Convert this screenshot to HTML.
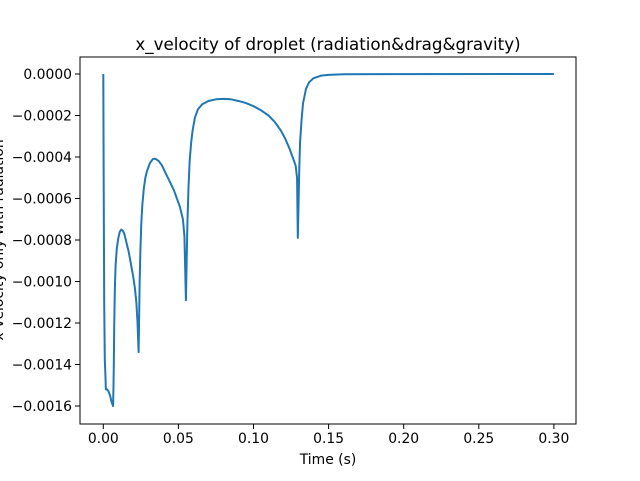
<!DOCTYPE html>
<html><head><meta charset="utf-8"><style>
html,body{margin:0;padding:0;background:#fff;}
svg text{font-family:"DejaVu Sans","Liberation Sans",sans-serif;fill:#000;}
</style></head><body>
<svg id="chart" width="640" height="476" viewBox="0 0 640 476" xmlns="http://www.w3.org/2000/svg">
<rect width="640" height="476" fill="#fff"/>
<text x="328" y="50" font-size="16.7" text-anchor="middle">x_velocity of droplet (radiation&amp;drag&amp;gravity)</text>
<text x="328" y="464" font-size="13.9" text-anchor="middle">Time (s)</text>
<text transform="translate(3,240) rotate(-90)" font-size="13.9" text-anchor="middle">x-velocity only with radiation</text>
<g id="ticks"></g>
<path id="series" fill="none" stroke="#1f77b4" stroke-width="2" stroke-linejoin="round"/>
<rect x="80" y="57" width="496" height="367" fill="none" stroke="#000" stroke-width="1"/>
</svg>
<script>
const times = [0,0.0003,0.0006,0.001,0.0014,0.0017,0.0025,0.0035,0.0045,0.0055,0.0065,
0.0068,0.007,0.0073,0.0077,0.0082,0.009,0.010,0.011,0.012,0.013,0.014,0.015,0.016,0.017,0.018,0.019,0.020,0.021,0.022,0.0228,0.0235,
0.0238,0.0242,0.0247,0.0253,0.026,0.027,0.028,0.029,0.030,0.031,0.033,0.034,0.035,0.037,0.039,0.041,0.043,0.045,0.047,0.049,0.051,0.052,0.053,0.054,0.055,
0.0555,0.056,0.0567,0.0575,0.0585,0.0595,0.061,0.063,0.066,0.070,0.075,0.080,0.085,0.090,0.095,0.100,0.105,0.110,0.114,0.118,0.121,0.124,0.126,0.128,0.129,0.1295,
0.130,0.1305,0.131,0.132,0.133,0.135,0.137,0.140,0.145,0.150,0.16,0.30];
const velocities = [0,-0.0006,-0.0011,-0.00138,-0.00145,-0.00152,-0.00152,-0.00153,-0.00155,-0.00158,-0.0016,
-0.0015,-0.0014,-0.0012,-0.00103,-0.00092,-0.00084,-0.00079,-0.00076,-0.00075,-0.000755,-0.00077,-0.0008,-0.00083,-0.00086,-0.0009,-0.00094,-0.00098,-0.00103,-0.0011,-0.0012,-0.00134,
-0.0012,-0.001,-0.00085,-0.00072,-0.00063,-0.00055,-0.0005,-0.00047,-0.00045,-0.00043,-0.00041,-0.000408,-0.00041,-0.00042,-0.00044,-0.00047,-0.0005,-0.00053,-0.00056,-0.0006,-0.00064,-0.00067,-0.0007,-0.00078,-0.00109,
-0.0009,-0.00072,-0.00055,-0.00042,-0.00033,-0.00027,-0.00021,-0.00017,-0.000145,-0.00013,-0.000122,-0.00012,-0.000122,-0.00013,-0.00014,-0.000155,-0.000175,-0.0002,-0.00023,-0.00027,-0.00031,-0.00036,-0.0004,-0.00044,-0.0005,-0.00079,
-0.00062,-0.00045,-0.00033,-0.00022,-0.00014,-0.00007,-0.00004,-0.00002,-0.000008,-0.000004,-0.000001,0];
const xTicks = [0,0.05,0.10,0.15,0.20,0.25,0.30];
const xTickLabels = ["0.00","0.05","0.10","0.15","0.20","0.25","0.30"];
const yTicks = [0,-0.0002,-0.0004,-0.0006,-0.0008,-0.0010,-0.0012,-0.0014,-0.0016];
const yTickLabels = ["0.0000","\u22120.0002","\u22120.0004","\u22120.0006","\u22120.0008","\u22120.0010","\u22120.0012","\u22120.0014","\u22120.0016"];

function xs(t){ return 103.3 + t/0.05*75.1; }
function ys(v){ return 74 - v/0.0002*41.5; }

const NS="http://www.w3.org/2000/svg";
const g=document.getElementById('ticks');
xTicks.forEach((t,i)=>{
  const x=xs(t);
  const l=document.createElementNS(NS,'line');
  
  
  l.setAttribute('x1',x);l.setAttribute('x2',x);l.setAttribute('y1',424);l.setAttribute('y2',429);
  l.setAttribute('stroke','#000');
  g.appendChild(l);
  const tx=document.createElementNS(NS,'text');
  
  
  tx.setAttribute('x',x);tx.setAttribute('y',443);tx.setAttribute('font-size','13.9');tx.setAttribute('text-anchor','middle');
  tx.textContent=xTickLabels[i];
  g.appendChild(tx);
});
yTicks.forEach((v,i)=>{
  const y=ys(v);
  const l=document.createElementNS(NS,'line');
  
  
  l.setAttribute('x1',75);l.setAttribute('x2',80);l.setAttribute('y1',y);l.setAttribute('y2',y);
  l.setAttribute('stroke','#000');
  g.appendChild(l);
  const tx=document.createElementNS(NS,'text');
  
  
  tx.setAttribute('x',72);tx.setAttribute('y',y+5);tx.setAttribute('font-size','13.9');tx.setAttribute('text-anchor','end');
  tx.textContent=yTickLabels[i];
  g.appendChild(tx);
});
let d='';
times.forEach((t,i)=>{ d+=(i?'L':'M')+xs(t).toFixed(2)+' '+ys(velocities[i]).toFixed(2); });
document.getElementById('series').setAttribute('d',d);
</script>
</body></html>
